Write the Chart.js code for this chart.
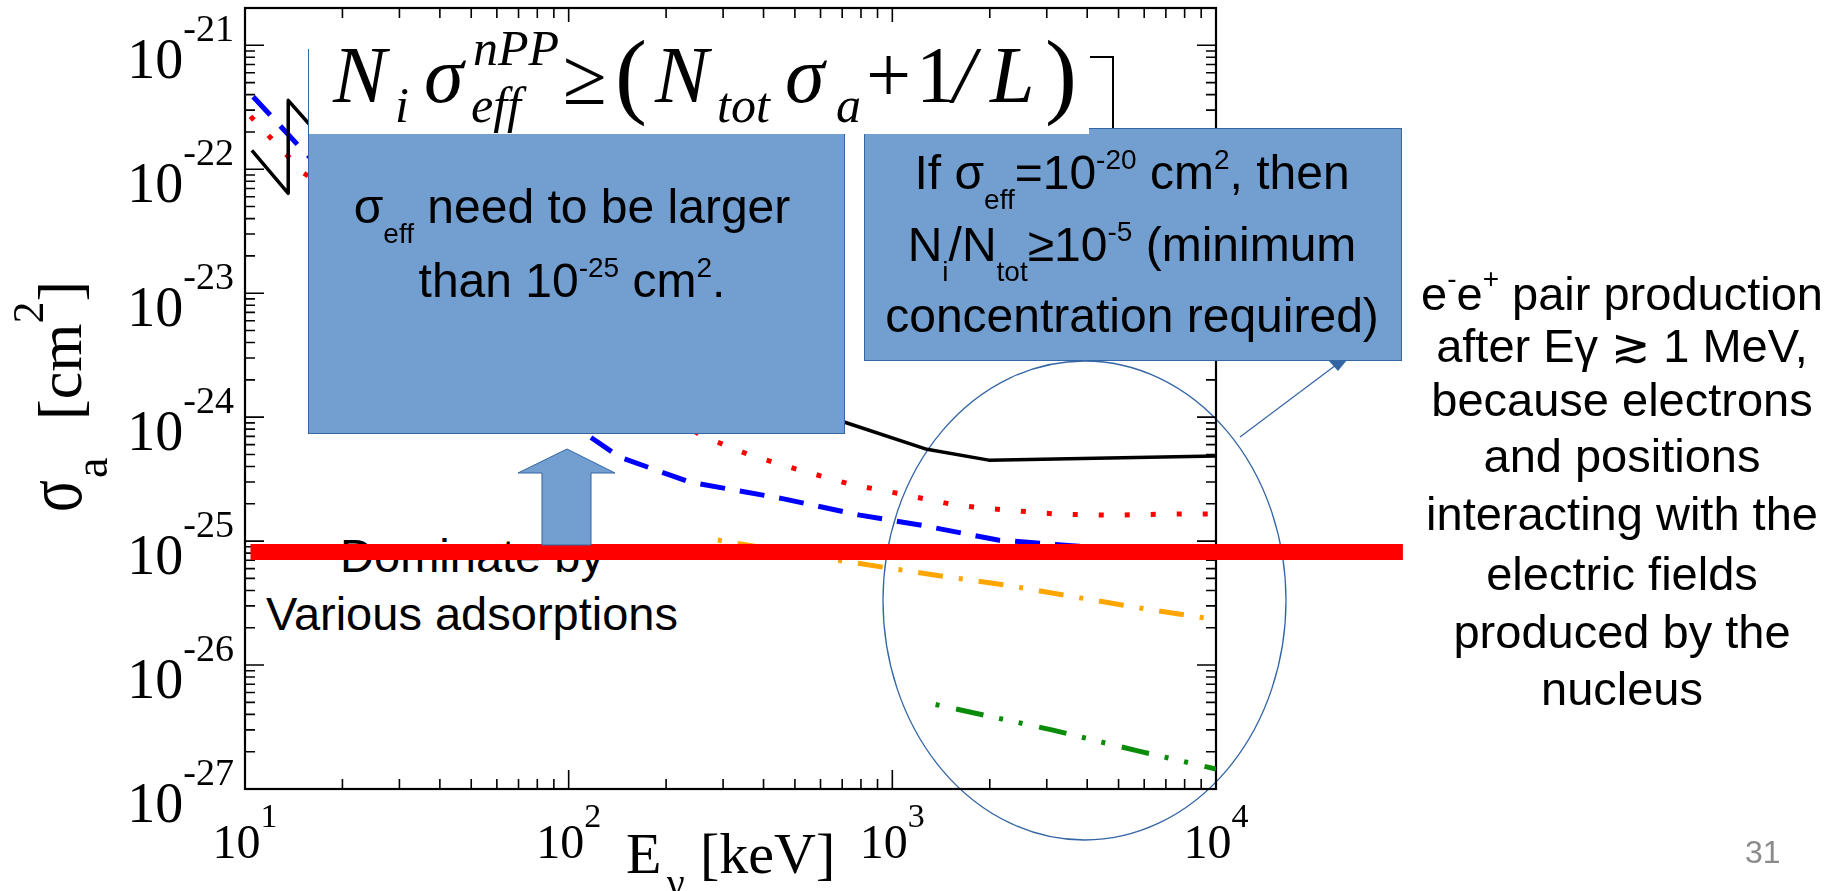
<!DOCTYPE html>
<html>
<head>
<meta charset="utf-8">
<title>Absorption cross sections vs photon energy</title>
<script src="https://cdn.jsdelivr.net/npm/chart.js@4.4.1/dist/chart.umd.min.js"></script>
<style>
  body { margin: 0; background: #fff; }
  #slide { position: relative; width: 1841px; height: 891px; overflow: hidden; background: #fff; }
  #under, #over { position: absolute; left: 0; top: 0; width: 1841px; height: 891px; pointer-events: none; }
  #under { z-index: 1; }
  #chart { position: absolute; left: 0; top: 0; z-index: 2; }
  #over { z-index: 3; }
  .t { position: absolute; font-family: 'Liberation Sans', Arial, sans-serif; color: #000; text-align: center; white-space: nowrap; }
  .sp { position: relative; top: -20px; font-size: 28px; line-height: 0; }
  .sb { position: relative; top: 20px; font-size: 28px; line-height: 0; }
  .box { position: absolute; box-sizing: border-box; background: #729fcf; border: 1px solid #3465a4; }
  .fm { position: absolute; font-family: 'Liberation Serif', 'DejaVu Serif', serif; line-height: 1; white-space: pre; color: #000; }
  .it { font-style: italic; }
</style>
</head>
<body>
<div id="slide">

  <!-- below the plot: text crossed by the red bar, ellipse -->
  <div id="under">
    <div class="t" style="left:172px;top:532px;width:600px;font-size:47px;line-height:47px">Dominate by</div>
    <div class="t" style="left:172px;top:590px;width:600px;font-size:47px;line-height:47px">Various adsorptions</div>
    <svg width="1841" height="891" style="position:absolute;left:0;top:0">
      <ellipse cx="1084.5" cy="600.5" rx="201.5" ry="239.5" fill="none" stroke="#3465a4" stroke-width="1.3"/>
      <line x1="1240" y1="437" x2="1336" y2="365" stroke="#3465a4" stroke-width="1.3"/>
    </svg>
  </div>

  <canvas id="chart" width="1841" height="891"></canvas>

  <!-- on top of the plot -->
  <div id="over">
    <div style="position:absolute;left:1090px;top:56px;width:24px;height:72px;box-sizing:border-box;border-top:2px solid #000;border-right:2px solid #000"></div>

    <div class="box" style="left:308px;top:49px;width:537px;height:385px"></div>
    <div class="box" style="left:864px;top:128px;width:538px;height:233px"></div>

    <!-- formula on white -->
    <div style="position:absolute;left:309px;top:22px;width:780px;height:112px;background:#fff"></div>
    <span class="fm it" style="left:333px;top:35px;font-size:80px">N</span>
    <span class="fm it" style="left:395px;top:80px;font-size:50px">i</span>
    <span class="fm it" style="left:424px;top:35px;font-size:80px">σ</span>
    <span class="fm it" style="left:473px;top:23px;font-size:50px">nPP</span>
    <span class="fm it" style="left:471px;top:80px;font-size:50px">eff</span>
    <span class="fm" style="left:563px;top:37px;font-size:80px">≥</span>
    <span class="fm" style="left:615px;top:26px;font-size:96px">(</span>
    <span class="fm it" style="left:655px;top:35px;font-size:80px">N</span>
    <span class="fm it" style="left:717px;top:80px;font-size:50px">tot</span>
    <span class="fm it" style="left:785px;top:35px;font-size:80px">σ</span>
    <span class="fm it" style="left:836px;top:80px;font-size:50px">a</span>
    <span class="fm" style="left:866px;top:35px;font-size:80px">+</span>
    <span class="fm" style="left:916px;top:35px;font-size:80px">1</span>
    <span class="fm it" style="left:953px;top:35px;font-size:80px">/</span>
    <span class="fm it" style="left:990px;top:35px;font-size:80px">L</span>
    <span class="fm" style="left:1045px;top:26px;font-size:96px">)</span>

    <div class="t" style="left:322px;top:183px;width:500px;font-size:48px;line-height:48px">σ<span class="sb">eff</span> need to be larger</div>
    <div class="t" style="left:322px;top:257px;width:500px;font-size:48px;line-height:48px">than 10<span class="sp">-25</span> cm<span class="sp">2</span>.</div>

    <div class="t" style="left:862px;top:149px;width:540px;font-size:48px;line-height:48px">If σ<span class="sb">eff</span>=10<span class="sp">-20</span> cm<span class="sp">2</span>, then</div>
    <div class="t" style="left:862px;top:221px;width:540px;font-size:48px;line-height:48px">N<span class="sb">i</span>/N<span class="sb">tot</span>≥10<span class="sp">-5</span> (minimum</div>
    <div class="t" style="left:862px;top:292px;width:540px;font-size:48px;line-height:48px">concentration required)</div>

    <svg width="1841" height="891" style="position:absolute;left:0;top:0">
      <polygon points="567,449 615,473 591,473 591,545 542,545 542,473 518,473" fill="#729fcf" stroke="#3465a4" stroke-width="1"/>
      <polygon points="1328,360 1347,360 1338,371" fill="#3465a4"/>
    </svg>

    <div class="t" style="left:1372px;top:270px;width:500px;font-size:47px;line-height:47px">e<span class="sp" style="top:-22px">-</span>e<span class="sp" style="top:-22px">+</span> pair production</div>
    <div class="t" style="left:1372px;top:322px;width:500px;font-size:47px;line-height:47px">after Eγ ≳ 1 MeV,</div>
    <div class="t" style="left:1372px;top:376px;width:500px;font-size:47px;line-height:47px">because electrons</div>
    <div class="t" style="left:1372px;top:432px;width:500px;font-size:47px;line-height:47px">and positions</div>
    <div class="t" style="left:1372px;top:490px;width:500px;font-size:47px;line-height:47px">interacting with the</div>
    <div class="t" style="left:1372px;top:550px;width:500px;font-size:47px;line-height:47px">electric fields</div>
    <div class="t" style="left:1372px;top:608px;width:500px;font-size:47px;line-height:47px">produced by the</div>
    <div class="t" style="left:1372px;top:665px;width:500px;font-size:47px;line-height:47px">nucleus</div>

    <div class="t" style="left:1745px;top:836px;font-size:32px;line-height:32px;color:#8b8b8b;text-align:left">31</div>
  </div>
</div>

<script>
// {{{ data (energy in keV, cross section in cm^2)
const blackE = [10.5, 13.6, 13.6, 15.7, 713, 1279, 1986, 10000];
const blackS = [1.42e-22, 6.4e-23, 3.6e-22, 2.35e-22, 9.1e-25, 5.5e-25, 4.5e-25, 4.85e-25];

const redE = [10.4, 15.2, 255, 363, 518, 740, 1071, 1572, 2259, 3249, 4770, 7000, 10000];
const redS = [2.67e-22, 9.3e-23, 7.16e-25, 4.94e-25, 3.74e-25, 2.88e-25, 2.39e-25, 1.95e-25, 1.78e-25, 1.65e-25, 1.62e-25, 1.65e-25, 1.66e-25];

const blueE = [10.6, 14.8, 112, 144, 237, 450, 794, 1217, 2118, 3767, 10000];
const blueS = [3.85e-22, 1.5e-22, 7.43e-25, 4.75e-25, 2.99e-25, 2.22e-25, 1.62e-25, 1.35e-25, 1.02e-25, 9.1e-26, 8.4e-26];

const orangeE = [289, 680, 1365, 2259, 3770, 6250, 9200];
const orangeS = [1.02e-25, 7.0e-26, 5.3e-26, 4.4e-26, 3.5e-26, 2.8e-26, 2.4e-26];

const greenE = [1360, 3110, 5860, 10000];
const greenS = [4.8e-27, 3.0e-27, 2.0e-27, 1.45e-27];

// thick red threshold bar, runs past the right axis
const barE = [10.4, 37800];
const barS = [8.15e-26, 8.15e-26];

const xExp = [1, 2, 3, 4];
const yExp = [-27, -26, -25, -24, -23, -22, -21];
// }}}

const SERIF = "'Liberation Serif', 'DejaVu Serif', serif";

function pts(xs, ys) {
  return xs.map((v, i) => ({x: v, y: ys[i]}));
}

function isDecade(v) {
  const l = Math.log10(v);
  return Math.abs(l - Math.round(l)) < 1e-6;
}

function isWhole(v) {
  const e = Math.floor(Math.log10(v) + 1e-9);
  const m = v / Math.pow(10, e);
  return Math.abs(m - Math.round(m)) < 1e-6;
}

// {{{ frame, inward ticks on four sides, labels
const frame = {
  id: 'frame',
  beforeDatasetsDraw(chart) {
    const {ctx, chartArea: a, scales: {x, y}} = chart;
    ctx.save();
    ctx.strokeStyle = '#000';
    ctx.lineWidth = 1.6;
    ctx.beginPath();
    for (const t of x.ticks) {
      if (!isWhole(t.value)) continue;
      const px = x.getPixelForValue(t.value);
      const len = isDecade(t.value) ? 19 : 10;
      ctx.moveTo(px, a.bottom); ctx.lineTo(px, a.bottom - len);
      ctx.moveTo(px, a.top); ctx.lineTo(px, a.top + len);
    }
    for (const t of y.ticks) {
      if (!isWhole(t.value)) continue;
      const py = y.getPixelForValue(t.value);
      const len = isDecade(t.value) ? 19 : 10;
      ctx.moveTo(a.left, py); ctx.lineTo(a.left + len, py);
      ctx.moveTo(a.right, py); ctx.lineTo(a.right - len, py);
    }
    ctx.stroke();
    ctx.lineWidth = 2.2;
    ctx.strokeRect(a.left, a.top, a.right - a.left, a.bottom - a.top);

    ctx.fillStyle = '#000';
    ctx.textBaseline = 'alphabetic';

    // y tick labels 10^n
    for (const e of yExp) {
      const py = y.getPixelForValue(Math.pow(10, e));
      ctx.textAlign = 'right';
      ctx.font = '38px ' + SERIF;
      const ws = ctx.measureText(String(e)).width;
      ctx.fillText(String(e), a.left - 11, py - 4);
      ctx.font = '56px ' + SERIF;
      ctx.fillText('10', a.left - 11 - ws, py + 33);
    }

    // x tick labels 10^n
    for (const e of xExp) {
      const px = x.getPixelForValue(Math.pow(10, e));
      ctx.font = '48px ' + SERIF;
      const wb = ctx.measureText('10').width;
      ctx.font = '34px ' + SERIF;
      const ws = ctx.measureText(String(e)).width;
      const left = px - (wb + ws) / 2;
      ctx.textAlign = 'left';
      ctx.font = '48px ' + SERIF;
      ctx.fillText('10', left, a.bottom + 69);
      ctx.font = '34px ' + SERIF;
      ctx.fillText(String(e), left + wb, a.bottom + 38);
    }

    // x title: E_gamma [keV]
    ctx.textAlign = 'left';
    ctx.font = '58px ' + SERIF;
    ctx.fillText('E', 626, 873);
    ctx.font = '40px ' + SERIF;
    ctx.fillText('γ', 667, 896);
    ctx.font = '58px ' + SERIF;
    ctx.fillText('[keV]', 700, 873);

    // y title: sigma_a [cm^2], rotated; the sigma is tall and narrow
    ctx.translate(81, 512);
    ctx.rotate(-Math.PI / 2);
    let c = 0;
    ctx.save();
    ctx.scale(0.74, 1);
    ctx.font = '80px ' + SERIF;
    ctx.fillText('σ', 0, 0);
    c = ctx.measureText('σ').width * 0.74 + 2;
    ctx.restore();
    ctx.font = '46px ' + SERIF;
    ctx.fillText('a', c, 26);
    c = 92;
    ctx.font = '62px ' + SERIF;
    ctx.fillText('[cm', c, 0);
    c += ctx.measureText('[cm').width;
    ctx.font = '44px ' + SERIF;
    ctx.fillText('2', c, -38);
    c += ctx.measureText('2').width;
    ctx.font = '62px ' + SERIF;
    ctx.fillText(']', c, 0);
    ctx.restore();
  }
};
// }}}

const line = (data, color, width, dash, offset) => ({
  data: data,
  showLine: true,
  borderColor: color,
  borderWidth: width,
  borderDash: dash || [],
  borderDashOffset: offset || 0,
  borderCapStyle: 'butt',
  borderJoinStyle: 'round',
  pointRadius: 0,
  pointHoverRadius: 0,
  tension: 0
});

const bar = line(pts(barE, barS), '#ff0000', 16);
bar.clip = false;

new Chart(document.getElementById('chart'), {
  type: 'scatter',
  data: {
    datasets: [
      bar,
      line(pts(blackE, blackS), '#000000', 3.5),
      line(pts(redE, redS), '#ff0000', 5, [5, 21]),
      line(pts(blueE, blueS), '#0000ff', 5, [25, 15]),
      line(pts(orangeE, orangeS), '#ffa500', 5, [25, 16, 4, 16], 41),
      line(pts(greenE, greenS), '#0a8c0a', 5, [28, 16, 4, 16, 4, 17], 64)
    ]
  },
  options: {
    responsive: false,
    animation: false,
    events: [],
    layout: {padding: {left: 0, top: 8, right: 625, bottom: 0}},
    scales: {
      x: {
        type: 'logarithmic', min: 10, max: 1e4,
        ticks: {display: false}, grid: {display: false}, border: {display: false},
        afterFit: (s) => { s.height = 102; }
      },
      y: {
        type: 'logarithmic', min: 1e-27, max: 2e-21,
        ticks: {display: false}, grid: {display: false}, border: {display: false},
        afterFit: (s) => { s.width = 245; }
      }
    },
    plugins: {legend: {display: false}, tooltip: {enabled: false}}
  },
  plugins: [frame]
});
</script>
</body>
</html>
